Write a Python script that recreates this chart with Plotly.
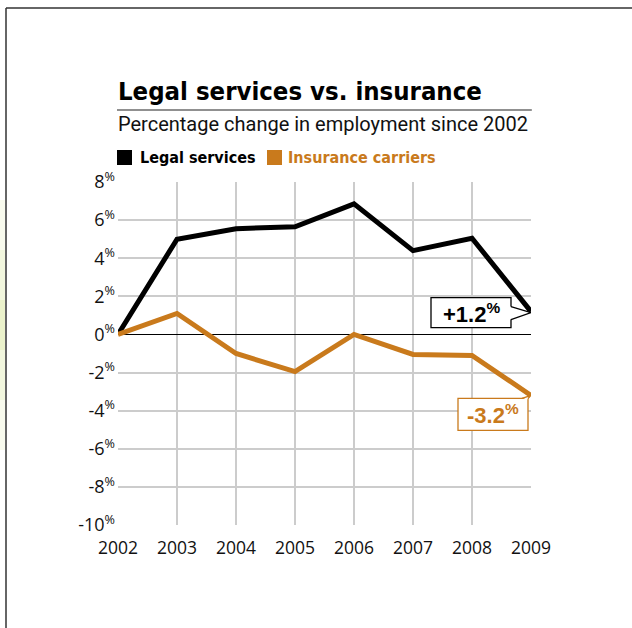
import plotly.graph_objects as go

years = [2002, 2003, 2004, 2005, 2006, 2007, 2008, 2009]
legal = [0.0, 5.0, 5.55, 5.65, 6.85, 4.4, 5.05, 1.2]
insurance = [0.0, 1.1, -1.0, -1.95, 0.0, -1.05, -1.1, -3.2]
ytick_vals = [8, 6, 4, 2, 0, -2, -4, -6, -8, -10]
ytick_text = [f"{v}<sup>%</sup>" for v in ytick_vals]
series_names = ["Legal services", "Insurance carriers"]

BLACK = "#000000"
ORANGE = "#C97A1C"
XTICKFONT = dict(family="Open Sans", size=17.5, color="#111")
YTICKFONT = dict(family="Open Sans", size=18, color="#111")

fig = go.Figure()
fig.add_trace(go.Scatter(x=years, y=legal, mode="lines", name=series_names[0],
                         line=dict(color=BLACK, width=5), cliponaxis=False))
fig.add_trace(go.Scatter(x=years, y=insurance, mode="lines", name=series_names[1],
                         line=dict(color=ORANGE, width=5), cliponaxis=False))

fig.update_layout(
    width=632, height=628,
    margin=dict(l=118, r=101, t=182, b=103),
    paper_bgcolor="white", plot_bgcolor="white",
    showlegend=False,
    xaxis=dict(range=[2002, 2009], tickvals=years, ticktext=[str(y) for y in years],
               showgrid=True, gridcolor="#cccccc", gridwidth=1.5, zeroline=False,
               showline=False, ticks="", tickfont=XTICKFONT, fixedrange=True,
               ticklabelstandoff=10),
    yaxis=dict(range=[-10, 8], tickvals=ytick_vals, ticktext=ytick_text,
               showgrid=True, gridcolor="#cccccc", gridwidth=1.5,
               zeroline=True, zerolinecolor="#000", zerolinewidth=1.2,
               showline=False, ticks="", tickfont=YTICKFONT, fixedrange=True,
               ticklabelstandoff=2),
)

shapes = []
# outer frame (top and left)
shapes.append(dict(type="line", xref="paper", yref="paper", x0=-112/413, x1=1 + 120/413,
                   y0=1 + 174/343, y1=1 + 174/343, line=dict(color="#333", width=1.5)))
shapes.append(dict(type="line", xref="paper", yref="paper", x0=-112/413, x1=-112/413,
                   y0=1 + 174/343, y1=-110/343, line=dict(color="#333", width=1.5)))
# faint green strip on far left
for i, op in enumerate([0.12, 0.22, 0.35, 0.22, 0.12]):
    y_top = 1 + (182 - 200 - i * 50) / 343
    y_bot = y_top - 50 / 343
    shapes.append(dict(type="rect", xref="paper", yref="paper", x0=-118/413, x1=-113/413,
                       y0=y_bot, y1=y_top, fillcolor="#c5d96a", opacity=op, line=dict(width=0), layer="below"))
# rule under the title
shapes.append(dict(type="line", xref="paper", yref="paper", x0=-1/413, x1=1.002,
                   y0=1 + 72/343, y1=1 + 72/343, line=dict(color="#222", width=1.2)))
# legend squares
shapes.append(dict(type="rect", xref="paper", yref="paper", x0=-1/413, x1=14/413,
                   y0=1 + 17/343, y1=1 + 32/343, fillcolor=BLACK, line=dict(width=0)))
shapes.append(dict(type="rect", xref="paper", yref="paper", x0=149/413, x1=164/413,
                   y0=1 + 17/343, y1=1 + 32/343, fillcolor=ORANGE, line=dict(width=0)))

# callout for legal services end value
lx, ly = years[-1], legal[-1]
shapes.append(dict(type="rect", xref="x", yref="y", xsizemode="pixel", ysizemode="pixel",
                   xanchor=lx, yanchor=ly, x0=-100, x1=-20, y0=-16, y1=14,
                   fillcolor="white", line=dict(color=BLACK, width=1.3), layer="above"))
shapes.append(dict(type="path", xref="x", yref="y", xsizemode="pixel", ysizemode="pixel",
                   xanchor=lx, yanchor=ly, path="M -21 5 L 0 -1 L -21 -8 Z",
                   fillcolor="white", line=dict(width=0), layer="above"))
shapes.append(dict(type="path", xref="x", yref="y", xsizemode="pixel", ysizemode="pixel",
                   xanchor=lx, yanchor=ly, path="M -20 5 L 0 -1 L -20 -8",
                   line=dict(color=BLACK, width=1.3), layer="above"))
# callout for insurance end value
ix, iy = years[-1], insurance[-1]
shapes.append(dict(type="rect", xref="x", yref="y", xsizemode="pixel", ysizemode="pixel",
                   xanchor=ix, yanchor=iy, x0=-73, x1=-3, y0=-35, y1=-3,
                   fillcolor="white", line=dict(color=ORANGE, width=1.3), layer="above"))
shapes.append(dict(type="path", xref="x", yref="y", xsizemode="pixel", ysizemode="pixel",
                   xanchor=ix, yanchor=iy, path="M -9 -4 L 0 0 L -4 -4 Z",
                   fillcolor="white", line=dict(width=0), layer="above"))
shapes.append(dict(type="path", xref="x", yref="y", xsizemode="pixel", ysizemode="pixel",
                   xanchor=ix, yanchor=iy, path="M -9 -3 L 0 0 L -3 -3",
                   line=dict(color=ORANGE, width=1.3), layer="above"))
fig.update_layout(shapes=shapes)

TITLEFONT = "DejaVu Sans Condensed, Roboto, sans-serif"
annotations = [
    dict(text="<b>Legal services vs. insurance</b>", xref="paper", yref="paper",
         x=-2/413, y=1 + 74/343, xanchor="left", yanchor="bottom", showarrow=False,
         font=dict(family=TITLEFONT, size=25.5, color="#000")),
    dict(text="Percentage change in employment since 2002", xref="paper", yref="paper",
         x=-2/413, y=1 + 44/343, xanchor="left", yanchor="bottom", showarrow=False,
         font=dict(family="Roboto", size=20, color="#111")),
    dict(text=f"<b>{series_names[0]}</b>", xref="paper", yref="paper",
         x=20/413, y=1 + 24.5/343, xanchor="left", yanchor="middle", showarrow=False,
         font=dict(family=TITLEFONT, size=16, color=BLACK)),
    dict(text=f"<b>{series_names[1]}</b>", xref="paper", yref="paper",
         x=168/413, y=1 + 24.5/343, xanchor="left", yanchor="middle", showarrow=False,
         font=dict(family=TITLEFONT, size=16, color=ORANGE)),
    dict(text=f"<b>{legal[-1]:+.1f}<sup>%</sup></b>", xref="x", yref="y", x=lx, y=ly,
         xshift=-60, yshift=-1, showarrow=False,
         font=dict(family="Liberation Sans", size=22, color=BLACK)),
    dict(text=f"<b>{insurance[-1]:.1f}<sup>%</sup></b>", xref="x", yref="y", x=ix, y=iy,
         xshift=-38, yshift=-19, showarrow=False,
         font=dict(family="Liberation Sans", size=22, color=ORANGE)),
]
fig.update_layout(annotations=annotations)

fig.write_html("out.html")
